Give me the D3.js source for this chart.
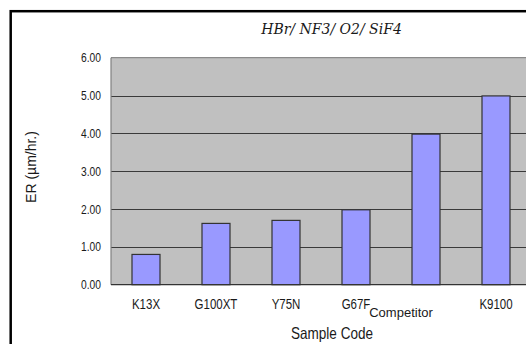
<!DOCTYPE html>
<html><head><meta charset="utf-8">
<script src="https://cdn.jsdelivr.net/npm/d3@7"></script>
<style>html,body{margin:0;padding:0;background:#fff;}svg{display:block;}</style>
</head><body>
<svg id="c" width="526" height="344"></svg>
<script>
const categories = ["K13X","G100XT","Y75N","G67F","Competitor","K9100"];
const values = [0.80, 1.62, 1.70, 1.98, 3.98, 4.99];
const yTicks = [0,1,2,3,4,5,6];
const title = "HBr/ NF3/ O2/ SiF4";
const xTitle = "Sample Code";
const yTitle = "ER (\u00b5m/hr.)";

const svg = d3.select("#c");
const L = 111, T = 57.7, B = 284.7, R = 531;
const sans = "Liberation Sans, Arial, sans-serif";

function condense(sel, f){
  sel.each(function(){
    const len = this.getComputedTextLength();
    d3.select(this).attr("textLength", len*f).attr("lengthAdjust","spacingAndGlyphs");
  });
}

// outer frame
svg.append("rect").attr("x",10.7).attr("y",11.2).attr("width",560).attr("height",400)
  .attr("fill","none").attr("stroke","#000").attr("stroke-width",2.5);

const x = d3.scaleBand().domain(categories).range([L,R]).paddingInner(0.6).paddingOuter(0.3);
const y = d3.scaleLinear().domain([0,6]).range([B,T]);

svg.append("rect").attr("x",L).attr("y",T).attr("width",R-L).attr("height",B-T).attr("fill","#c0c0c0");

// grid
svg.append("g").selectAll("line").data(yTicks.filter(d=>d>0&&d<6)).join("line")
  .attr("x1",L).attr("x2",R).attr("y1",d=>Math.round(y(d))+0.5).attr("y2",d=>Math.round(y(d))+0.5)
  .attr("stroke","#3a3a3a").attr("stroke-width",1.2);
svg.append("line").attr("x1",L).attr("x2",R).attr("y1",y(6)).attr("y2",y(6)).attr("stroke","#8a8a8a").attr("stroke-width",1.3);
svg.append("line").attr("x1",L).attr("x2",L).attr("y1",T).attr("y2",B).attr("stroke","#808080").attr("stroke-width",1.2);

// bars
svg.append("g").selectAll("rect").data(values).join("rect")
  .attr("x",(d,i)=>x(categories[i])).attr("width",x.bandwidth())
  .attr("y",d=>y(d)).attr("height",d=>B-y(d))
  .attr("fill","#9999ff").attr("stroke","#333").attr("stroke-width",1.2);

svg.append("line").attr("x1",L).attr("x2",R).attr("y1",B).attr("y2",B).attr("stroke","#333").attr("stroke-width",1.3);

// y axis
const yAxis = d3.axisLeft(y).tickValues(yTicks).tickFormat(d3.format(".2f")).tickSize(0).tickPadding(10);
const ga = svg.append("g").attr("transform",`translate(${L},0)`).call(yAxis);
ga.select(".domain").remove();
ga.selectAll("text").attr("font-family",sans).attr("font-size","12.5px").attr("fill","#1a1a1a");
condense(ga.selectAll("text"), 0.82);

// x axis
const xAxis = d3.axisBottom(x).tickSize(0).tickPadding(0);
const gx = svg.append("g").attr("transform",`translate(0,${B})`).call(xAxis);
gx.select(".domain").remove();
gx.selectAll("text").attr("font-family",sans).attr("font-size","14px").attr("fill","#1a1a1a")
  .attr("y",24.8).attr("dy",0);
const comp = gx.selectAll(".tick").filter(d=>d==="Competitor");
condense(gx.selectAll(".tick").filter(d=>d!=="Competitor").select("text"), 0.82);
// Competitor label shifted as in original
comp.insert("rect","text").attr("x",-58).attr("y",20.5).attr("width",68).attr("height",16).attr("fill","#fff");
comp.select("text").attr("font-size","13px").attr("dx",-25).attr("y",32.3);

// titles
svg.append("text").attr("x",331.5).attr("y",34).attr("text-anchor","middle")
  .attr("font-family","DejaVu Serif, serif").attr("font-style","italic").attr("font-size","14px")
  .attr("fill","#1a1a1a").text(title);
const xt = svg.append("text").attr("x",332).attr("y",338.5).attr("text-anchor","middle")
  .attr("font-family",sans).attr("font-size","16.5px").attr("fill","#1a1a1a").text(xTitle);
condense(xt, 0.82);
svg.append("text").attr("transform","translate(36,167) rotate(-90)").attr("text-anchor","middle")
  .attr("font-family",sans).attr("font-size","14px").attr("fill","#1a1a1a").text(yTitle);
</script>
</body></html>
